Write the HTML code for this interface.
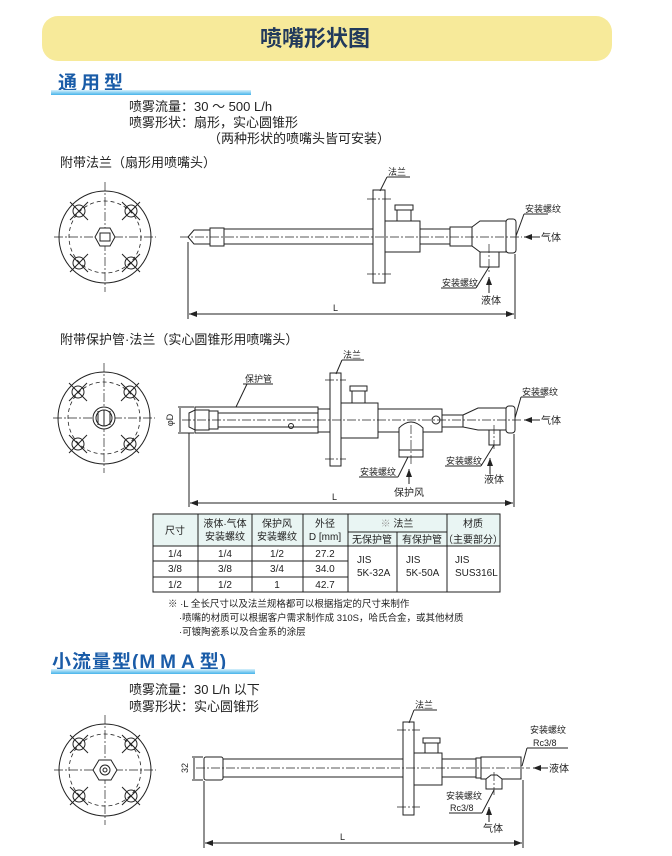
<!DOCTYPE html>
<html><head><meta charset="utf-8"><style>
html,body{margin:0;padding:0;background:#fff;width:672px;height:856px;overflow:hidden}
svg{display:block}
text{font-family:"Liberation Sans","Noto Sans CJK SC",sans-serif;fill:#222}
.s{stroke:#222;stroke-width:1;fill:#fff}
.n{stroke:#222;stroke-width:1;fill:none}
.c{stroke:#222;stroke-width:.7;fill:none;stroke-dasharray:9 2 2 2}
.d{stroke:#222;stroke-width:.8;fill:none;stroke-dasharray:4 3}
.t{font-size:13px}
.sm{font-size:9px}
.m{font-size:10px}
</style></head><body>
<svg width="672" height="856" viewBox="0 0 672 856" xmlns="http://www.w3.org/2000/svg">
<defs>
<linearGradient id="bar" x1="0" y1="0" x2="0" y2="1"><stop offset="0" stop-color="#d8f1fb"/><stop offset="1" stop-color="#45b3ea"/></linearGradient>
<marker id="ar" markerWidth="8" markerHeight="6" refX="8" refY="3" orient="auto-start-reverse"><path d="M0,0 L8,3 L0,6 z" fill="#222"/></marker>
<g id="bolt"><circle r="6" class="n"/><line x1="-9" y1="-9" x2="9" y2="9" class="n" stroke-width=".7"/><line x1="-9" y1="9" x2="9" y2="-9" class="n" stroke-width=".7"/></g>
<g id="fl">
<circle r="46" class="n"/><circle r="36" class="d"/>
<line x1="-51" y1="0" x2="51" y2="0" class="c"/><line x1="0" y1="-55" x2="0" y2="55" class="c"/>
<use href="#bolt" x="-26" y="-26"/><use href="#bolt" x="26" y="-26"/><use href="#bolt" x="-26" y="26"/><use href="#bolt" x="26" y="26"/>
</g>
</defs>

<rect x="42" y="16" width="570" height="45" rx="16" fill="#f7ea9a"/>
<text x="315" y="46" text-anchor="middle" style="font-size:22px;font-weight:bold;fill:#223a5c">喷嘴形状图</text>

<text x="58" y="89" style="font-size:19px;font-weight:bold;fill:#1a5ca8;letter-spacing:4px">通用型</text>
<rect x="51" y="90" width="200" height="5" fill="url(#bar)"/>
<text x="129" y="111" class="t">喷雾流量：30 ～ 500  L/h</text>
<text x="129" y="127" class="t">喷雾形状：扇形，实心圆锥形</text>
<text x="208" y="143" class="t">（两种形状的喷嘴头皆可安装）</text>
<text x="60" y="167" class="t">附带法兰（扇形用喷嘴头）</text>

<use href="#fl" x="105" y="237"/>
<polygon points="95,237 100,228 110,228 115,237 110,246 100,246" class="s"/>
<rect x="100" y="233" width="10" height="8" class="n"/>

<path d="M188,237 L194,230 L210,230 L210,244 L194,244 Z" class="s"/>
<rect x="210" y="228" width="14" height="18" class="s"/>
<rect x="224" y="229" width="149" height="15" class="s"/>
<rect x="397" y="208" width="14" height="13" class="s"/>
<rect x="395" y="205" width="18" height="5" class="s"/>
<rect x="385" y="221" width="35" height="31" class="s"/>
<rect x="420" y="229" width="30" height="15" class="s"/>
<rect x="450" y="227" width="22" height="19" class="s"/>
<path d="M472,227 L480,221 L506,221 L506,252 L480,252 L472,246 Z" class="s"/>
<rect x="480" y="252" width="19" height="15" class="s"/>
<rect x="506" y="219" width="10" height="34" rx="3" class="s"/>
<rect x="373" y="190" width="12" height="93" class="s"/>
<line x1="180" y1="237" x2="522" y2="237" class="c"/>
<line x1="367" y1="199" x2="391" y2="199" class="c"/><line x1="367" y1="274" x2="391" y2="274" class="c"/>
<line x1="489" y1="244" x2="489" y2="272" class="c"/>
<text x="388" y="175" class="sm">法兰</text><line x1="387" y1="177" x2="410" y2="177" class="n"/><line x1="387" y1="177" x2="380" y2="191" class="n"/>
<text x="525" y="212" class="sm">安装螺纹</text><line x1="524" y1="214" x2="548" y2="214" class="n"/><line x1="524" y1="214" x2="516" y2="236" class="n"/>
<line x1="540" y1="237" x2="524" y2="237" class="n" marker-end="url(#ar)"/><text x="541" y="241" class="m">气体</text>
<text x="442" y="286" class="sm">安装螺纹</text><line x1="441" y1="288" x2="476" y2="288" class="n"/><line x1="476" y1="288" x2="489" y2="267" class="n"/>
<line x1="489" y1="293" x2="489" y2="277" class="n" marker-end="url(#ar)"/><text x="481" y="304" class="m">液体</text>
<line x1="188" y1="242" x2="188" y2="319" class="n" stroke-width=".7"/><line x1="515" y1="254" x2="515" y2="319" class="n" stroke-width=".7"/>
<line x1="189" y1="314" x2="514" y2="314" class="n" marker-start="url(#ar)" marker-end="url(#ar)"/>
<text x="333" y="311" class="sm">L</text>

<text x="60" y="344" class="t">附带保护管·法兰（实心圆锥形用喷嘴头）</text>
<use href="#fl" x="104" y="418"/>
<circle cx="104" cy="418" r="11" class="s"/><circle cx="104" cy="418" r="8" class="n"/>
<line x1="98" y1="411" x2="98" y2="425" class="n" stroke-width=".6"/><line x1="104" y1="410" x2="104" y2="426" class="n" stroke-width=".6"/><line x1="110" y1="411" x2="110" y2="425" class="n" stroke-width=".6"/>

<rect x="195" y="407" width="123" height="26" class="s"/>
<path d="M189,413 L195,410 L195,430 L189,427 Z" class="s"/>
<rect x="195" y="410" width="14" height="20" class="s"/>
<rect x="209" y="411" width="9" height="18" class="s"/>
<rect x="218" y="413" width="100" height="14" class="n"/>
<circle cx="291" cy="426" r="2.5" class="n"/>
<rect x="318" y="409" width="12" height="23" class="s"/>
<rect x="341" y="403" width="37" height="35" class="s"/>
<rect x="352" y="389" width="13" height="14" class="s"/><rect x="350" y="386" width="17" height="5" class="s"/>
<rect x="378" y="409" width="64" height="23" class="s"/>
<circle cx="436" cy="420" r="4" class="s"/>
<path d="M399,457 L399,428 Q411,416 423,428 L423,457 Z" class="s"/>
<rect x="399" y="450" width="24" height="7" class="s"/>
<rect x="442" y="415" width="21" height="12" class="s"/>
<path d="M463,415 L478,408 L506,408 L506,430 L478,430 L463,427 Z" class="s"/>
<rect x="489" y="430" width="11" height="15" class="s"/>
<rect x="506" y="406" width="9" height="27" rx="3" class="s"/>
<rect x="330" y="373" width="11" height="93" class="s"/>
<line x1="182" y1="420" x2="522" y2="420" class="c"/>
<line x1="325" y1="380" x2="346" y2="380" class="c"/><line x1="325" y1="459" x2="346" y2="459" class="c"/>
<line x1="411" y1="425" x2="411" y2="465" class="c"/><line x1="494" y1="425" x2="494" y2="450" class="c"/>
<text x="343" y="358" class="sm">法兰</text><line x1="342" y1="360" x2="364" y2="360" class="n"/><line x1="342" y1="360" x2="336" y2="374" class="n"/>
<text x="245" y="382" class="sm">保护管</text><line x1="243" y1="384" x2="273" y2="384" class="n"/><line x1="247" y1="384" x2="236" y2="407" class="n"/>
<text transform="translate(173,420) rotate(-90)" text-anchor="middle" class="sm">φD</text>
<line x1="178" y1="407" x2="194" y2="407" class="n" stroke-width=".6"/><line x1="178" y1="433" x2="194" y2="433" class="n" stroke-width=".6"/>
<line x1="180" y1="408" x2="180" y2="432" class="n" stroke-width=".6"/>
<text x="522" y="395" class="sm">安装螺纹</text><line x1="521" y1="397" x2="545" y2="397" class="n"/><line x1="521" y1="397" x2="515" y2="418" class="n"/>
<line x1="540" y1="420" x2="524" y2="420" class="n" marker-end="url(#ar)"/><text x="541" y="424" class="m">气体</text>
<text x="446" y="464" class="sm">安装螺纹</text><line x1="445" y1="466" x2="481" y2="466" class="n"/><line x1="481" y1="466" x2="494" y2="445" class="n"/>
<line x1="490" y1="474" x2="490" y2="458" class="n" marker-end="url(#ar)"/><text x="484" y="483" class="m">液体</text>
<text x="360" y="475" class="sm">安装螺纹</text><line x1="359" y1="477" x2="398" y2="477" class="n"/><line x1="398" y1="477" x2="408" y2="457" class="n"/>
<line x1="409" y1="484" x2="409" y2="469" class="n" marker-end="url(#ar)"/><text x="394" y="496" class="m">保护风</text>
<line x1="189" y1="433" x2="189" y2="507" class="n" stroke-width=".7"/><line x1="514" y1="434" x2="514" y2="507" class="n" stroke-width=".7"/>
<line x1="190" y1="503" x2="513" y2="503" class="n" marker-start="url(#ar)" marker-end="url(#ar)"/>
<text x="332" y="500" class="sm">L</text>

<rect x="153" y="514" width="347" height="32" fill="#e9f5f3"/>
<g class="n" stroke-width="1">
<rect x="153" y="514" width="347" height="78"/>
<line x1="198" y1="514" x2="198" y2="592"/><line x1="252" y1="514" x2="252" y2="592"/><line x1="303" y1="514" x2="303" y2="592"/>
<line x1="348" y1="514" x2="348" y2="592"/><line x1="397" y1="532" x2="397" y2="592"/><line x1="447" y1="514" x2="447" y2="592"/>
<line x1="348" y1="532" x2="447" y2="532"/>
<line x1="153" y1="546" x2="500" y2="546"/>
<line x1="153" y1="561" x2="348" y2="561"/><line x1="153" y1="577" x2="348" y2="577"/>
</g>
<g class="m" text-anchor="middle">
<text x="175" y="534">尺寸</text>
<text x="225" y="527">液体·气体</text><text x="225" y="540">安装螺纹</text>
<text x="277" y="527">保护风</text><text x="277" y="540">安装螺纹</text>
<text x="325" y="527">外径</text><text x="325" y="540">D [mm]</text>
<text x="397" y="527"><tspan style="fill:#999">※</tspan> 法兰</text>
<text x="372" y="543">无保护管</text><text x="422" y="543">有保护管</text>
<text x="473" y="527">材质</text><text x="473" y="543">（主要部分）</text>
<text x="175" y="557">1/4</text><text x="225" y="557">1/4</text><text x="277" y="557">1/2</text><text x="325" y="557">27.2</text>
<text x="175" y="572">3/8</text><text x="225" y="572">3/8</text><text x="277" y="572">3/4</text><text x="325" y="572">34.0</text>
<text x="175" y="588">1/2</text><text x="225" y="588">1/2</text><text x="277" y="588">1</text><text x="325" y="588">42.7</text>
</g>
<g class="m">
<text x="357" y="563">JIS</text><text x="357" y="576">5K-32A</text>
<text x="406" y="563">JIS</text><text x="406" y="576">5K-50A</text>
<text x="455" y="563">JIS</text><text x="455" y="576">SUS316L</text>
</g>
<text x="168" y="607" style="font-size:9.5px">※ ·L 全长尺寸以及法兰规格都可以根据指定的尺寸来制作</text>
<text x="179" y="621" style="font-size:9.5px">·喷嘴的材质可以根据客户需求制作成 310S，哈氏合金，或其他材质</text>
<text x="179" y="635" style="font-size:9.5px">·可镀陶瓷系以及合金系的涂层</text>

<text x="52" y="668" style="font-size:19px;font-weight:bold;fill:#1a5ca8;letter-spacing:1px">小流量型(<tspan letter-spacing="5px">MMA</tspan>型)</text>
<rect x="51" y="669" width="204" height="5" fill="url(#bar)"/>
<text x="129" y="694" class="t">喷雾流量：30 L/h 以下</text>
<text x="129" y="711" class="t">喷雾形状：实心圆锥形</text>

<use href="#fl" x="105" y="770"/>
<polygon points="93,770 99,760 111,760 117,770 111,780 99,780" class="s"/>
<circle cx="105" cy="770" r="5" class="n"/><circle cx="105" cy="770" r="2" class="n"/>

<rect x="204" y="757" width="19" height="23" rx="2" class="s"/>
<rect x="223" y="759" width="180" height="18" class="s"/>
<rect x="414" y="753" width="28" height="32" class="s"/>
<rect x="425" y="741" width="13" height="12" class="s"/><rect x="423" y="738" width="17" height="5" class="s"/>
<rect x="442" y="759" width="34" height="18" class="s"/>
<rect x="476" y="758" width="5" height="20" class="s"/>
<rect x="481" y="757" width="40" height="22" class="s"/>
<path d="M486,779 L491,775 L497,775 L502,779 L502,789 L486,789 Z" class="s"/>
<rect x="403" y="722" width="11" height="93" class="s"/>
<line x1="196" y1="768" x2="530" y2="768" class="c"/>
<line x1="397" y1="730" x2="420" y2="730" class="c"/><line x1="397" y1="807" x2="420" y2="807" class="c"/>
<line x1="494" y1="772" x2="494" y2="795" class="c"/>
<text transform="translate(188,768) rotate(-90)" text-anchor="middle" class="sm">32</text>
<line x1="192" y1="757" x2="203" y2="757" class="n" stroke-width=".6"/><line x1="192" y1="780" x2="203" y2="780" class="n" stroke-width=".6"/>
<line x1="194" y1="758" x2="194" y2="779" class="n" stroke-width=".6"/>
<text x="415" y="708" class="sm">法兰</text><line x1="414" y1="710" x2="437" y2="710" class="n"/><line x1="414" y1="710" x2="409" y2="723" class="n"/>
<text x="530" y="733" class="sm">安装螺纹</text><text x="533" y="746" class="sm">Rc3/8</text>
<line x1="527" y1="748" x2="568" y2="748" class="n"/><line x1="527" y1="748" x2="522" y2="766" class="n"/>
<line x1="548" y1="768" x2="533" y2="768" class="n" marker-end="url(#ar)"/><text x="549" y="772" class="m">液体</text>
<text x="446" y="799" class="sm">安装螺纹</text><text x="450" y="811" class="sm">Rc3/8</text>
<line x1="449" y1="813" x2="482" y2="813" class="n"/><line x1="482" y1="813" x2="494" y2="790" class="n"/>
<line x1="489" y1="822" x2="489" y2="807" class="n" marker-end="url(#ar)"/><text x="483" y="832" class="m">气体</text>
<line x1="204" y1="781" x2="204" y2="848" class="n" stroke-width=".7"/><line x1="523" y1="780" x2="523" y2="848" class="n" stroke-width=".7"/>
<line x1="205" y1="843" x2="522" y2="843" class="n" marker-start="url(#ar)" marker-end="url(#ar)"/>
<text x="340" y="840" class="sm">L</text>
</svg>
</body></html>
